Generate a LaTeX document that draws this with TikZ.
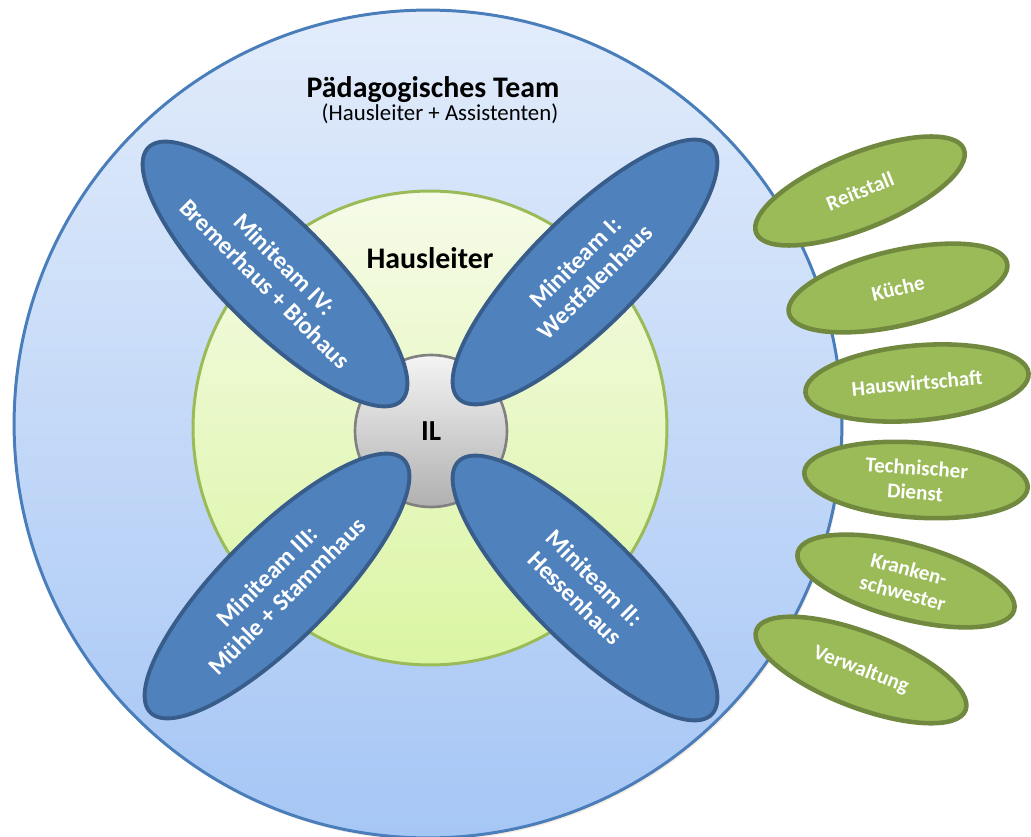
\documentclass[tikz,border=0pt]{standalone}
\usepackage{fontspec}
\setmainfont{Carlito}
\usepackage{tikz}
\usetikzlibrary{positioning,shapes.geometric,shadows}
\definecolor{teamline}{HTML}{4A7EBB}
\definecolor{teamtop}{HTML}{E2ECFB}
\definecolor{teambot}{HTML}{A6C6F5}
\definecolor{hlline}{HTML}{9BBB59}
\definecolor{hltop}{HTML}{F6FBE8}
\definecolor{hlbot}{HTML}{DAF5A2}
\definecolor{illine}{HTML}{808080}
\definecolor{iltop}{HTML}{F4F4F4}
\definecolor{ilbot}{HTML}{B0B0B0}
\definecolor{minifill}{HTML}{4F81BD}
\definecolor{miniline}{HTML}{385D8A}
\definecolor{svcfill}{HTML}{9BBB59}
\definecolor{svcline}{HTML}{71893F}
\tikzset{%
	teamdisc/.style  = {circle, draw=teamline, line width=1.7pt, top color=teamtop, bottom color=teambot, minimum size=16.56cm, inner sep=0pt, drop shadow={opacity=0.25, shadow xshift=1pt, shadow yshift=-1.5pt, fill=brown!60}},
	hldisc/.style    = {circle, draw=hlline, line width=1.7pt, top color=hltop, bottom color=hlbot, minimum size=9.48cm, inner sep=0pt},
	ildisc/.style    = {circle, draw=illine, line width=1.5pt, top color=iltop, bottom color=ilbot, minimum size=3.04cm, inner sep=0pt, font=\fontsize{16.5}{19}\selectfont\bfseries},
	miniteam/.style  = {ellipse, draw=miniline, line width=2.2pt, fill=minifill, minimum width=7.16cm, minimum height=2.2cm, inner sep=0pt, align=center, text=white, font=\fontsize{14}{16}\selectfont\bfseries},
	service/.style   = {ellipse, draw=svcline, line width=2.6pt, fill=svcfill, minimum width=4.48cm, minimum height=1.5cm, inner sep=0pt, align=center, text=white, font=\fontsize{12}{14}\selectfont\bfseries, drop shadow={opacity=0.2, shadow xshift=0.8pt, shadow yshift=-1pt}},
	heading/.style   = {font=\fontsize{17}{20}\selectfont\bfseries},
	subheading/.style= {font=\fontsize{13}{15}\selectfont},
}

\begin{document}
\begin{tikzpicture}[x=0.02cm,y=-0.02cm]
	\useasboundingbox (0,0) rectangle (1031,837);
	% three discs, one inside the other
	\node[teamdisc] (team) at (428,424) {};
	\node[hldisc] (hl) at (430,428) {};
	\node[ildisc] (il) at (431,431) {IL};
	
	\node[heading] (teamname) at (433,90) {Pädagogisches Team};
	\node[subheading] (teamsub) at (440,114) {(Hausleiter + Assistenten)};
	\node[heading] (hlname) at (430,258) {Hausleiter};
	
	% the four miniteams round the centre
	\foreach \x/\y/\ang/\txt [count=\i] in {585/272/45/{Miniteam I:\\Westfalenhaus}, 585/588/-45/{Miniteam II:\\Hessenhaus}, 277/586/45/{Miniteam III:\\Mühle + Stammhaus}, 275/274/-45/{Miniteam IV:\\Bremerhaus + Biohaus}}
		\node[miniteam, rotate=\ang] (mt\i) at (\x,\y) {\txt};
	
	% services along the right edge
	\foreach \x/\y/\ang/\txt [count=\i] in {860/191/22/Reitstall, 898/288/13/Küche, 917/383/5/Hauswirtschaft, 916/480/-4/{Technischer\\Dienst}, 906/581/-15/{Kranken-\\schwester}, 861/670/-21/Verwaltung}
		\node[service, rotate=\ang] (svc\i) at (\x,\y) {\txt};
\end{tikzpicture}
\end{document}
